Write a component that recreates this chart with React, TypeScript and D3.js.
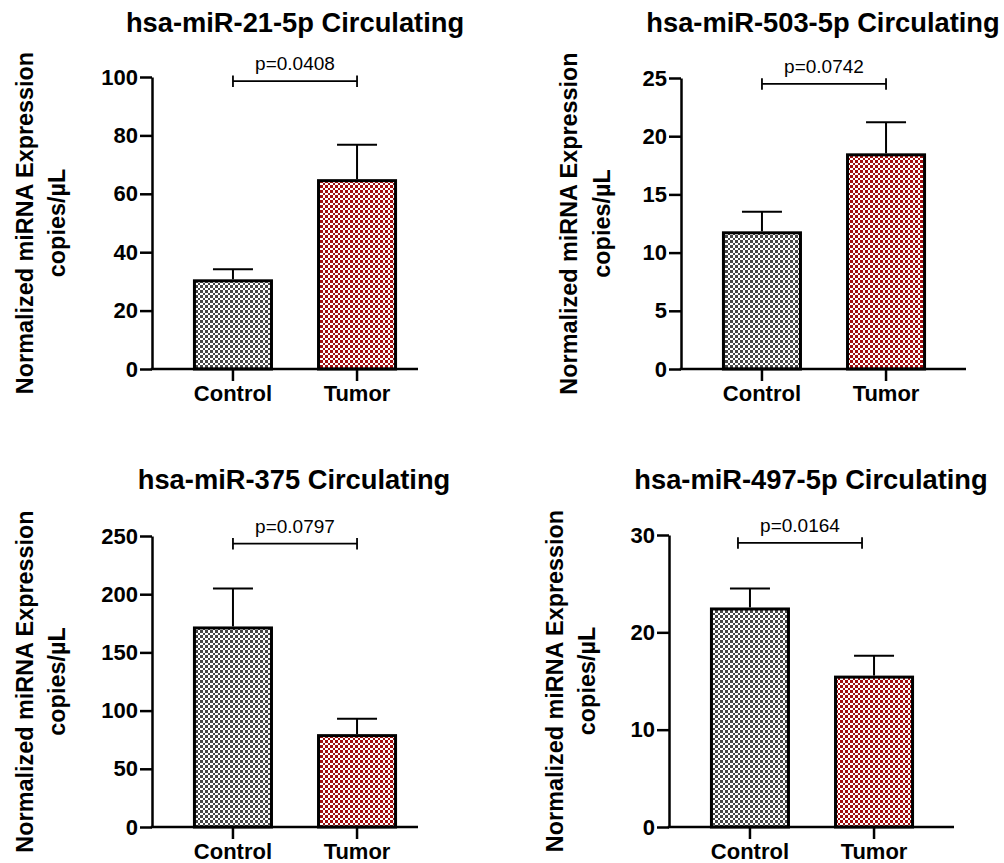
import React, { useEffect, useRef } from 'react';
import * as d3 from 'd3';

// chart values
const titles = [
  'hsa-miR-21-5p Circulating',
  'hsa-miR-503-5p Circulating',
  'hsa-miR-375 Circulating',
  'hsa-miR-497-5p Circulating',
];
const categories = ['Control', 'Tumor'];
const means = [
  [30.2, 64.5],
  [11.7, 18.4],
  [171, 78.5],
  [22.4, 15.4],
];
const upperErrors = [
  [4.0, 12.3],
  [1.8, 2.8],
  [34, 14.5],
  [2.1, 2.2],
];
const yMax = [100, 25, 250, 30];
const yTicks = [
  [0, 20, 40, 60, 80, 100],
  [0, 5, 10, 15, 20, 25],
  [0, 50, 100, 150, 200, 250],
  [0, 10, 20, 30],
];
const pLabels = ['p=0.0408', 'p=0.0742', 'p=0.0797', 'p=0.0164'];
const bracketLevels = [98.6, 24.5, 243.5, 29.2];
const yLabelLines = ['Normalized miRNA Expression', 'copies/µL'];

// where each panel sits on the page
const layouts = [
  { x0: 152, yTop: 77, yBot: 369, axisLen: 266, lab1: 33, lab2: 65, titleX: 295, titleY: 32, shift: 0 },
  { x0: 681, yTop: 78, yBot: 369, axisLen: 285, lab1: 577, lab2: 610, titleX: 823, titleY: 32, shift: 0 },
  { x0: 152, yTop: 536, yBot: 827, axisLen: 266, lab1: 33, lab2: 65, titleX: 294, titleY: 489, shift: 0 },
  { x0: 669, yTop: 535, yBot: 827, axisLen: 285, lab1: 563, lab2: 595, titleX: 811, titleY: 489, shift: -12 },
];

const fillColors = ['#474747', '#a00f0f'];
const FONT = "'Liberation Sans', Arial, Helvetica, sans-serif";

const App = () => {
  const svgRef = useRef<SVGSVGElement>(null);

  useEffect(() => {
    const svg = d3.select(svgRef.current);
    svg.selectAll('*').remove();
    svg.attr('font-family', FONT);

    // checkerboard fills
    const cell = 2.5;
    const defs = svg.append('defs');
    fillColors.forEach((c, i) => {
      const p = defs.append('pattern')
        .attr('id', `check${i}`)
        .attr('patternUnits', 'userSpaceOnUse')
        .attr('width', cell * 2)
        .attr('height', cell * 2);
      p.append('rect').attr('width', cell * 2).attr('height', cell * 2).attr('fill', '#fff');
      p.append('rect').attr('width', cell).attr('height', cell).attr('fill', c)
        .attr('shape-rendering', 'crispEdges');
      p.append('rect').attr('x', cell).attr('y', cell).attr('width', cell).attr('height', cell).attr('fill', c)
        .attr('shape-rendering', 'crispEdges');
    });

    layouts.forEach((L, i) => {
      const g = svg.append('g');

      const x = d3.scaleBand<string>()
        .domain(categories)
        .range([L.x0, L.x0 + 286])
        .paddingInner(0.355)
        .paddingOuter(0.33);

      const y = d3.scaleLinear()
        .domain([0, yMax[i]])
        .range([L.yBot, L.yTop]);

      const rows = categories.map((c, j) => ({ cat: c, mean: means[i][j], err: upperErrors[i][j], j }));

      // bars
      g.selectAll('.bar')
        .data(rows)
        .enter()
        .append('rect')
        .attr('x', d => x(d.cat)! + 1.5)
        .attr('y', d => y(d.mean))
        .attr('width', x.bandwidth() - 3)
        .attr('height', d => L.yBot - y(d.mean))
        .attr('fill', d => `url(#check${d.j})`)
        .attr('stroke', '#000')
        .attr('stroke-width', 3);

      // upper error bars
      rows.forEach(d => {
        const cx = x(d.cat)! + x.bandwidth() / 2;
        g.append('line')
          .attr('x1', cx).attr('x2', cx)
          .attr('y1', y(d.mean) - 1.5).attr('y2', y(d.mean + d.err))
          .attr('stroke', '#000').attr('stroke-width', 2);
        g.append('line')
          .attr('x1', cx - 20).attr('x2', cx + 20)
          .attr('y1', y(d.mean + d.err)).attr('y2', y(d.mean + d.err))
          .attr('stroke', '#000').attr('stroke-width', 2);
      });

      // y axis
      const yAxis = g.append('g')
        .attr('transform', `translate(${L.x0},0)`)
        .call(d3.axisLeft(y).tickValues(yTicks[i]).tickSize(12).tickSizeOuter(0).tickPadding(2));
      yAxis.select('.domain').attr('stroke-width', 2.5);
      yAxis.selectAll('.tick line').attr('stroke-width', 2.5);
      yAxis.selectAll('.tick text')
        .attr('font-family', FONT)
        .attr('font-size', 22)
        .attr('font-weight', 'bold')
        .attr('fill', '#000');

      // x axis
      g.append('line')
        .attr('x1', L.x0 - 1.25).attr('x2', L.x0 + L.axisLen)
        .attr('y1', L.yBot).attr('y2', L.yBot)
        .attr('stroke', '#000').attr('stroke-width', 2.5);
      categories.forEach(c => {
        const cx = x(c)! + x.bandwidth() / 2;
        g.append('line')
          .attr('x1', cx).attr('x2', cx)
          .attr('y1', L.yBot).attr('y2', L.yBot + 12)
          .attr('stroke', '#000').attr('stroke-width', 2.5);
        g.append('text')
          .attr('x', cx)
          .attr('y', L.yBot + 32)
          .attr('text-anchor', 'middle')
          .attr('font-size', 22)
          .attr('font-weight', 'bold')
          .text(c);
      });

      // significance bracket
      const c1 = x(categories[0])! + x.bandwidth() / 2 + L.shift;
      const c2 = x(categories[1])! + x.bandwidth() / 2 + L.shift;
      const by = y(bracketLevels[i]);
      g.append('line')
        .attr('x1', c1).attr('x2', c2).attr('y1', by).attr('y2', by)
        .attr('stroke', '#000').attr('stroke-width', 1.8);
      [c1, c2].forEach(cx => {
        g.append('line')
          .attr('x1', cx).attr('x2', cx).attr('y1', by - 5.5).attr('y2', by + 6)
          .attr('stroke', '#000').attr('stroke-width', 1.8);
      });
      g.append('text')
        .attr('x', (c1 + c2) / 2)
        .attr('y', by - 11)
        .attr('text-anchor', 'middle')
        .attr('font-size', 19)
        .text(pLabels[i]);

      // title
      g.append('text')
        .attr('x', L.titleX)
        .attr('y', L.titleY)
        .attr('text-anchor', 'middle')
        .attr('font-size', 27.3)
        .attr('font-weight', 'bold')
        .text(titles[i]);

      // y axis label, two lines
      const cy = (L.yTop + L.yBot) / 2;
      [L.lab1, L.lab2].forEach((lx, k) => {
        g.append('text')
          .attr('transform', `translate(${lx},${cy}) rotate(-90)`)
          .attr('text-anchor', 'middle')
          .attr('font-size', 23.4)
          .attr('font-weight', 'bold')
          .text(yLabelLines[k]);
      });
    });
  }, []);

  return (
    <div style={{ position: 'absolute', left: 0, top: 0 }}>
      <svg ref={svgRef} width={1004} height={863} style={{ display: 'block', background: '#fff' }}></svg>
    </div>
  );
};

export default App;
